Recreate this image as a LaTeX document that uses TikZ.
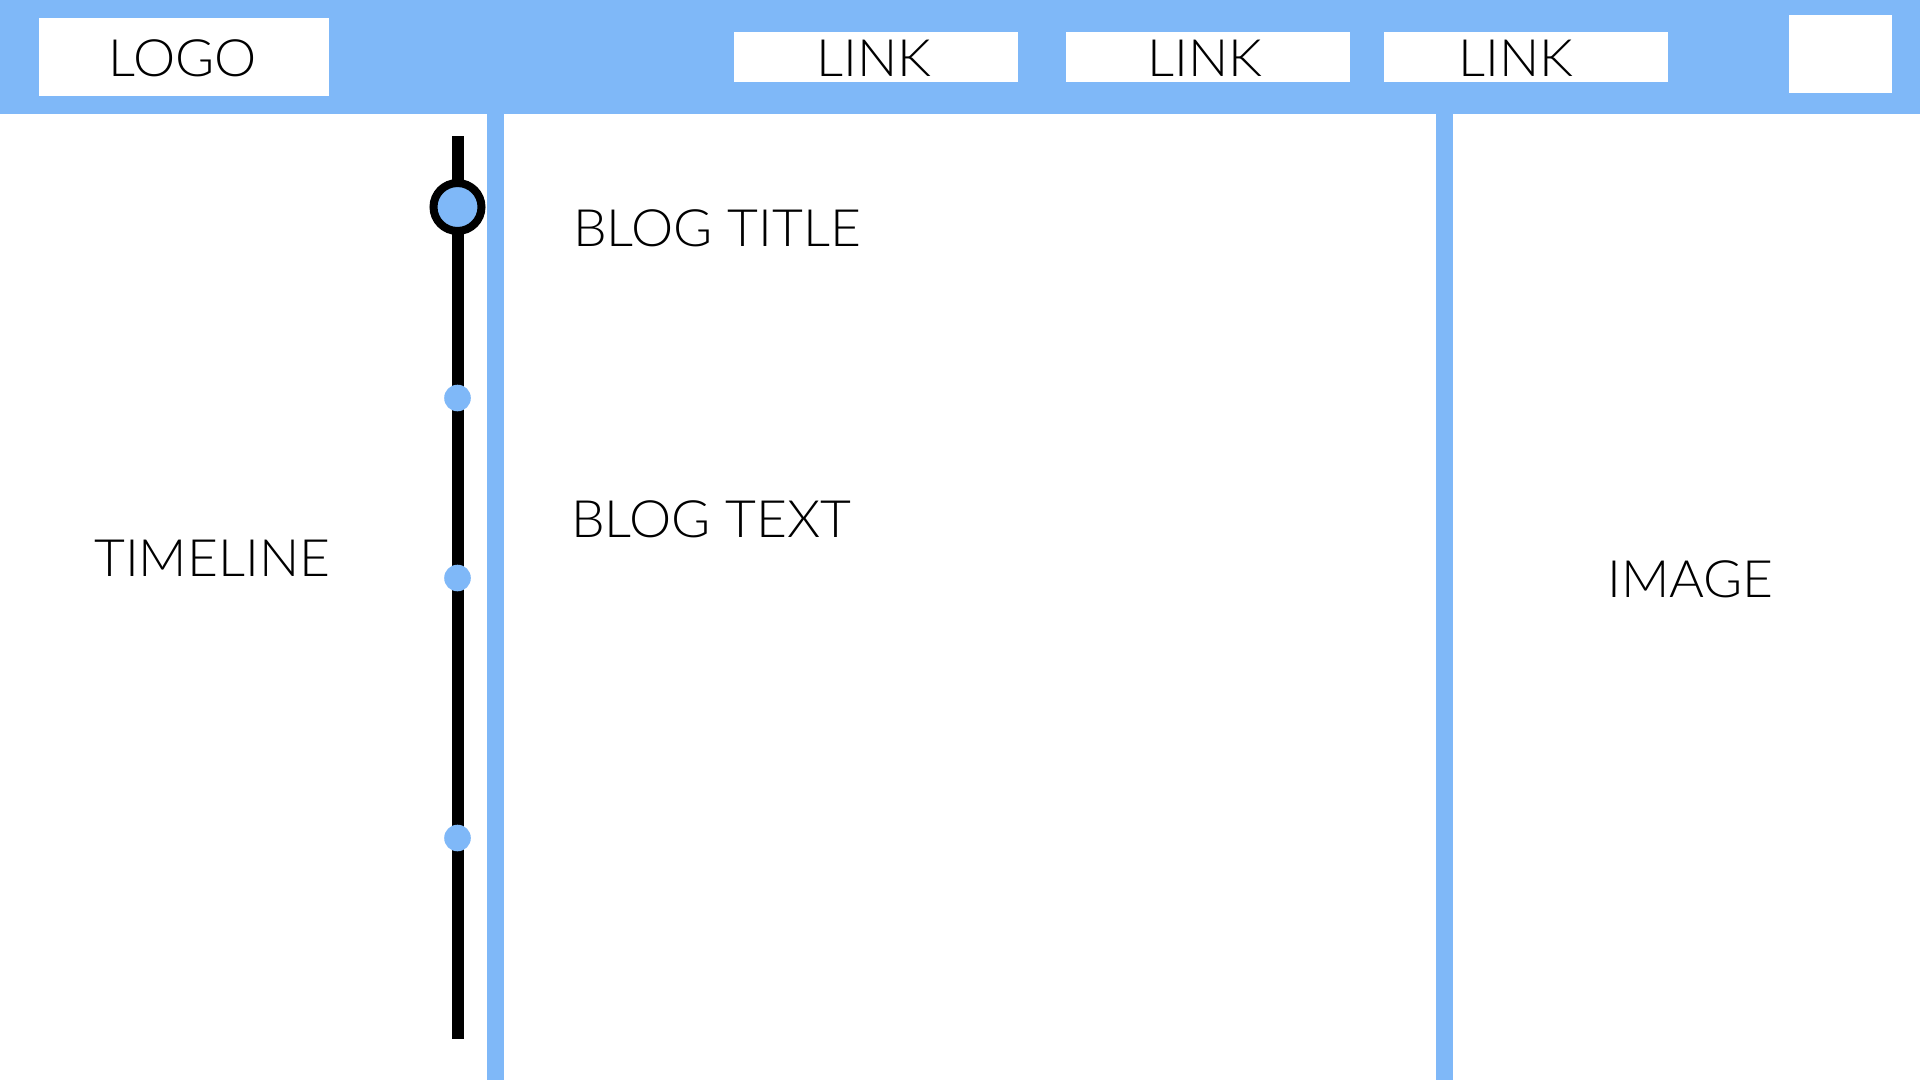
\documentclass[tikz,border=0pt]{standalone}
\usepackage{fontspec}
\setmainfont{Lato}[UprightFont=* Light, FakeStretch=1.035]
\definecolor{navblue}{RGB}{127,184,248}
\tikzset{
  bar/.style={fill=navblue, draw=none},
  whitebox/.style={fill=white, draw=none, minimum width=#1, minimum height=50, inner sep=0, outer sep=0},
  label/.style={font=\fontsize{51.5}{60}\selectfont, inner sep=0, text=black},
  bigdot/.style={circle, fill=navblue, draw=black, line width=8, minimum size=48, inner sep=0},
  smalldot/.style={circle, fill=navblue, draw=none, minimum size=26.6, inner sep=0},
  track/.style={line width=12, black},
}
\begin{document}
\begin{tikzpicture}[x=1pt, y=-1pt]
  \useasboundingbox (0,0) rectangle (1920,1080);
  \fill[white] (0,0) rectangle (1920,1080);
  % navigation bar and column dividers
  \fill[bar] (0,0) rectangle (1920,114);
  \fill[bar] (487,114) rectangle (504,1080);
  \fill[bar] (1436,114) rectangle (1453,1080);
  % header boxes
  \node[whitebox=290, minimum height=78] (logo) at (184,57) {};
  \node[whitebox=284] (link1) at (876,57) {};
  \node[whitebox=284] (link2) at (1208,57) {};
  \node[whitebox=284] (link3) at (1526,57) {};
  \node[whitebox=103, minimum height=78] (corner) at (1840.5,54) {};
  \node[label, anchor=base] (logotext) at (183,76.5) {LOGO};
  \node[label, anchor=base] (l1text) at (874,76) {LINK};
  \node[label, anchor=base] (l2text) at (1205,76) {LINK};
  \node[label, anchor=base] (l3text) at (1516,76) {LINK};
  % timeline track with its markers
  \coordinate (tltop) at (457.5,136);
  \coordinate (tlbot) at (457.5,1039);
  \draw[track] (tltop) -- (tlbot);
  \node[bigdot] (now) at (457.5,207) {};
  \node[smalldot] (d1) at (457.5,398) {};
  \node[smalldot] (d2) at (457.5,578) {};
  \node[smalldot] (d3) at (457.5,838) {};
  % column captions
  \node[label, anchor=base west] (timeline) at (94,576) {TIMELINE};
  \node[label, anchor=base west] (title) at (573,246.7) {BLOG TITLE};
  \node[label, anchor=base west] (text) at (571,537.3) {BLOG TEXT};
  \node[label, anchor=base west] (image) at (1607,597.3) {IMAGE};
\end{tikzpicture}
\end{document}
